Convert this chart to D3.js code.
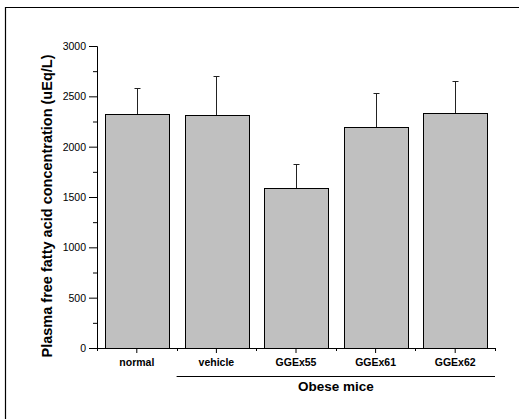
<!DOCTYPE html>
<html>
<head>
<meta charset="utf-8">
<script src="https://cdn.jsdelivr.net/npm/d3@7"></script>
<style>
  body { margin: 0; background: #fff; }
  svg { display: block; }
  text { font-family: "Liberation Sans", Arial, sans-serif; }
</style>
</head>
<body>
<div id="chart"></div>
<script>
// data
const categories = ['normal', 'vehicle', 'GGEx55', 'GGEx61', 'GGEx62'];
const means = [2325, 2315, 1586, 2195, 2334];
const errors = [253, 390, 239, 341, 318];
const yTicks = [0, 500, 1000, 1500, 2000, 2500, 3000];
const yMinorTicks = [250, 750, 1250, 1750, 2250, 2750];
const groupLabel = 'Obese mice';
const yTitle = 'Plasma free fatty acid concentration (uEq/L)';

const width = 519, height = 419;
const plot = { left: 97, right: 495, top: 46, bottom: 348 };

const svg = d3.select('#chart').append('svg')
    .attr('width', width)
    .attr('height', height);

// frame (only left and top edges are visible in the crop)
svg.append('path')
    .attr('d', `M5.5,${height}V7.5H${width}`)
    .attr('fill', 'none')
    .attr('stroke', '#000')
    .attr('stroke-width', 1.2);

const x = d3.scaleBand()
    .domain(categories)
    .range([plot.left, plot.right])
    .paddingInner(0.2)
    .paddingOuter(0.1);

const y = d3.scaleLinear()
    .domain([0, 3000])
    .range([plot.bottom, plot.top]);

const rows = categories.map((c, i) => ({ cat: c, mean: means[i], err: errors[i] }));

// bars
svg.append('g').selectAll('rect')
    .data(rows)
    .enter()
    .append('rect')
    .attr('x', d => Math.round(x(d.cat)) + 0.5)
    .attr('y', d => Math.round(y(d.mean)) + 0.5)
    .attr('width', Math.round(x.bandwidth()))
    .attr('height', d => Math.round(y(0)) - Math.round(y(d.mean)))
    .attr('fill', '#c0c0c0')
    .attr('stroke', '#000')
    .attr('stroke-width', 1);

// error bars (upper only)
const eb = svg.append('g').selectAll('g')
    .data(rows)
    .enter()
    .append('g')
    .attr('transform', d => `translate(${Math.round(x(d.cat) + x.bandwidth() / 2) + 0.5},0)`);

eb.append('line')
    .attr('y1', d => Math.round(y(d.mean)))
    .attr('y2', d => Math.round(y(d.mean + d.err)) + 0.5)
    .attr('stroke', '#222');

eb.append('line')
    .attr('x1', -3).attr('x2', 3)
    .attr('y1', d => Math.round(y(d.mean + d.err)) + 0.5)
    .attr('y2', d => Math.round(y(d.mean + d.err)) + 0.5)
    .attr('stroke', '#222');

// y axis
const yAxis = svg.append('g')
    .attr('transform', `translate(${plot.left},0)`)
    .call(d3.axisLeft(y).tickValues(yTicks).tickSize(8).tickPadding(3).tickFormat(d3.format('d')));

svg.append('g')
    .attr('transform', `translate(${plot.left},0)`)
    .call(d3.axisLeft(y).tickValues(yMinorTicks).tickSize(4).tickFormat(''))
    .call(g => g.select('.domain').remove());

yAxis.selectAll('text')
    .attr('font-size', '10.5px')
    .attr('fill', '#000')
    .style('font-family', '"Liberation Sans", Arial, sans-serif');

// x axis: domain line + centre ticks + small boundary ticks
const step = x.step();
const boundaries = d3.range(categories.length + 1).map(i => plot.left + i * step);

const xAxis = svg.append('g')
    .attr('transform', `translate(0,${plot.bottom})`)
    .call(d3.axisBottom(x).tickSize(5).tickPadding(6).tickSizeOuter(0));

xAxis.selectAll('text')
    .attr('font-size', '10.5px')
    .attr('font-weight', 'bold')
    .attr('fill', '#000')
    .style('font-family', '"Liberation Sans", Arial, sans-serif');

svg.append('g')
    .attr('transform', `translate(0,${plot.bottom})`)
    .selectAll('line')
    .data(boundaries)
    .enter()
    .append('line')
    .attr('x1', d => Math.round(d) + 0.5)
    .attr('x2', d => Math.round(d) + 0.5)
    .attr('y1', 0)
    .attr('y2', 3)
    .attr('stroke', '#000');

// group bracket for obese mice
const groupStart = x(categories[1]) - x.paddingInner() * step / 2;
svg.append('line')
    .attr('x1', groupStart)
    .attr('x2', plot.right)
    .attr('y1', 376.5)
    .attr('y2', 376.5)
    .attr('stroke', '#000');

svg.append('text')
    .attr('x', (groupStart + plot.right) / 2)
    .attr('y', 391)
    .attr('text-anchor', 'middle')
    .attr('font-size', '13.5px')
    .attr('font-weight', 'bold')
    .text(groupLabel);

// y axis title
svg.append('text')
    .attr('transform', `translate(52,206) rotate(-90)`)
    .attr('text-anchor', 'middle')
    .attr('font-size', '14.5px')
    .attr('font-weight', 'bold')
    .text(yTitle);
</script>
</body>
</html>
